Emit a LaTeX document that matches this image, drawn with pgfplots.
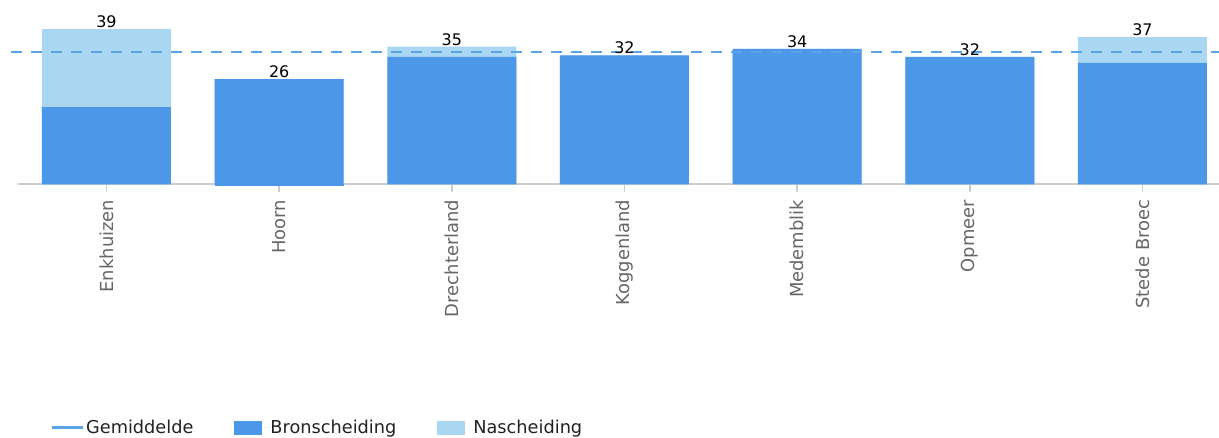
\documentclass[border=0pt]{standalone}
\usepackage{fontspec}
\setmainfont{DejaVu Sans}
\usepackage{pgfplots}
\usepackage{pgfplotstable}
\pgfplotsset{compat=1.18}

\definecolor{bron}{HTML}{4C97E8}
\definecolor{nasch}{HTML}{A9D6F0}
\definecolor{avg}{HTML}{5BA4E6}
\definecolor{axisgray}{HTML}{CCCCCC}
\definecolor{labelgray}{HTML}{666666}
\definecolor{textdark}{HTML}{222222}

\pgfplotsset{
  barleg/.style={legend image code/.code={\fill[##1] (0bp,-7bp) rectangle (28bp,7bp); \path (0bp,0bp) -- (34bp,0bp);}},
  lineleg/.style={legend image code/.code={\draw[##1] (0bp,0bp) -- (28bp,0bp); \path (0bp,0bp) -- (31bp,0bp);}},
}

% Bronscheiding en nascheiding per gemeente
\pgfplotstableread{
idx bron nasch
0 19.4 19.6
1 26.4 0
2 32.0 2.6
3 32.4 0
4 34.0 0
5 32.0 0
6 30.5 6.5
}\afval

\begin{document}
\begin{tikzpicture}
\path[use as bounding box] (-18bp,-253.7bp) rectangle (1201bp,184.3bp);
\begin{axis}[
  at={(0,0)}, anchor=south west,
  scale only axis, width=1201bp, height=174.3bp,
  xmin=-0.5125, xmax=6.443, ymin=0, ymax=43.8,
  axis y line=none, axis x line*=bottom,
  x axis line style={axisgray, line width=2bp},
  xtick={0,...,6},
  xticklabels={Enkhuizen,Hoorn,Drechterland,Koggenland,Medemblik,Opmeer,Stede Broec},
  xticklabel style={rotate=90, anchor=east, xshift=-4bp, font=\fontsize{18}{21}\selectfont, text=labelgray},
  tick align=outside, major tick length=8bp,
  x tick style={axisgray, line width=1.5bp},
  ybar, bar width=129bp, bar shift=0pt,
  clip=false,
  /pgf/number format/assume math mode=true,
  legend style={at={(0.0241,-1.398)}, anchor=west, draw=none, fill=none,
    font=\fontsize{17.8}{21}\selectfont, text=textdark,
    /tikz/every even column/.append style={column sep=39bp}},
  legend columns=3, legend cell align=left,
]
\addlegendimage{lineleg, avg, line width=3bp}
\addlegendentry{Gemiddelde}
\addlegendimage{barleg, fill=bron, draw=none}
\addlegendentry{Bronscheiding}
\addlegendimage{barleg, fill=nasch, draw=none}
\addlegendentry{Nascheiding}

% totaal (bron + na), met het afgeronde totaal erboven
\addplot[fill=nasch, draw=none, forget plot, point meta=y,
  nodes near coords={\pgfmathprintnumber[fixed,precision=0]{\pgfplotspointmeta}},
  nodes near coords style={font=\fontsize{16}{19}\selectfont, text=black, anchor=south, inner sep=1bp}]
  table[x=idx, y expr=\thisrow{bron}+\thisrow{nasch}] {\afval};
% bronscheiding
\addplot[fill=bron, draw=none, forget plot] table[x=idx, y=bron] {\afval};
% kleine negatieve waarde bij Hoorn
\addplot[fill=bron, draw=none, forget plot] coordinates {(1,-0.45)};
% gemiddelde
\addplot[forget plot, sharp plot, draw=avg, line width=2.5bp, dash pattern=on 11bp off 9bp]
  coordinates {(-0.553,33.2) (6.443,33.2)};
\end{axis}
\end{tikzpicture}
\end{document}
